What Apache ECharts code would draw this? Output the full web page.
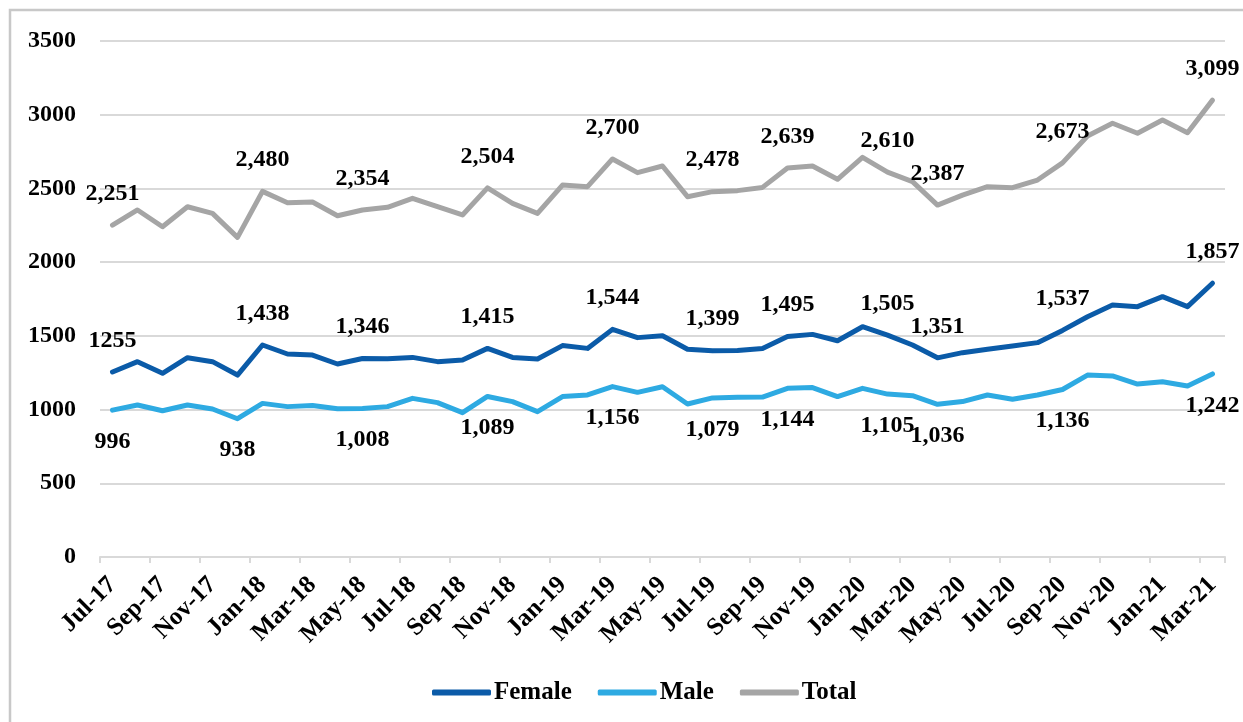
<!DOCTYPE html>
<html>
<head>
<meta charset="utf-8">
<script src="https://cdn.jsdelivr.net/npm/echarts@6/dist/echarts.min.js"></script>
<style>
  html, body { margin: 0; padding: 0; background: #fff; }
  #chart { width: 1243px; height: 722px; }
</style>
</head>
<body>
<div id="chart"></div>
<script type="text/javascript">
// months Jul-17 .. Mar-21
var months = ['Jul-17','Aug-17','Sep-17','Oct-17','Nov-17','Dec-17',
  'Jan-18','Feb-18','Mar-18','Apr-18','May-18','Jun-18','Jul-18','Aug-18','Sep-18','Oct-18','Nov-18','Dec-18',
  'Jan-19','Feb-19','Mar-19','Apr-19','May-19','Jun-19','Jul-19','Aug-19','Sep-19','Oct-19','Nov-19','Dec-19',
  'Jan-20','Feb-20','Mar-20','Apr-20','May-20','Jun-20','Jul-20','Aug-20','Sep-20','Oct-20','Nov-20','Dec-20',
  'Jan-21','Feb-21','Mar-21'];

var female = [1255,1325,1246,1352,1325,1234,1438,1377,1370,1309,1346,1344,1354,1325,1336,1415,1354,1343,
  1434,1415,1544,1488,1501,1409,1399,1400,1415,1495,1510,1467,1562,1505,1438,1351,1386,1409,1431,1454,
  1537,1630,1709,1698,1766,1698,1857];

var male = [996,1031,992,1031,1004,938,1042,1020,1028,1005,1008,1020,1076,1047,979,1089,1054,986,
  1088,1099,1156,1117,1155,1038,1079,1083,1085,1144,1149,1088,1144,1105,1094,1036,1054,1099,1070,1099,
  1136,1234,1228,1173,1189,1160,1242];

var total = [2251,2354,2240,2376,2331,2168,2480,2403,2408,2315,2354,2372,2433,2376,2320,2504,2399,2331,
  2523,2512,2700,2607,2652,2444,2478,2485,2507,2639,2652,2562,2711,2610,2546,2387,2455,2512,2505,2557,
  2673,2856,2942,2874,2964,2878,3099];

// which points carry a value label
var femaleLabelIdx = [0,6,10,15,20,24,27,31,33,38,44];
var maleLabelIdx   = [0,5,10,15,20,24,27,31,33,38,44];
var totalLabelIdx  = [0,6,10,15,20,24,27,31,33,38,44];

var yTicks = [0,500,1000,1500,2000,2500,3000,3500];

var FONT = '"Liberation Serif", "Times New Roman", serif';

function fmt(v){
  return String(v).replace(/\B(?=(\d{3})+(?!\d))/g, ',');
}

function withLabels(values, idx, pos, plain){
  return values.map(function(v, i){
    if (idx.indexOf(i) < 0) return v;
    return {
      value: v,
      label: {
        show: true,
        position: pos,
        distance: 19,
        color: '#000',
        fontFamily: FONT,
        fontWeight: 'bold',
        fontSize: 24,
        formatter: function(p){ return (plain && p.dataIndex === 0) ? String(p.value) : fmt(p.value); }
      }
    };
  });
}

function lineSeries(name, values, color){
  return {
    name: name,
    type: 'line',
    data: values,
    symbol: 'circle',
    symbolSize: 1,
    showSymbol: true,
    showAllSymbol: true,
    lineStyle: { width: 5, color: color, cap: 'round', join: 'round' },
    itemStyle: { color: color },
    label: { show: false },
    emphasis: { disabled: true }
  };
}

var mychart = echarts.init(document.getElementById('chart'));
var option = {
  animation: false,
  graphic: [{
    type: 'rect',
    shape: { x: 10, y: 10, width: 1400, height: 900 },
    style: { fill: 'none', stroke: '#c8c8c8', lineWidth: 2.5 },
    silent: true
  }],
  grid: { left: 100, right: 18, top: 41, bottom: 165 },
  legend: {
    data: ['Female','Male','Total'],
    top: 675,
    left: 427,
    icon: 'roundRect',
    itemWidth: 59,
    itemHeight: 6,
    itemGap: 26,
    textStyle: { fontFamily: FONT, fontWeight: 'bold', fontSize: 25, color: '#000', padding: [0,0,0,-2] }
  },
  xAxis: {
    type: 'category',
    data: months,
    boundaryGap: true,
    axisLine: { lineStyle: { color: '#d9d9d9', width: 2 } },
    axisTick: { show: true, interval: 1, length: 6, lineStyle: { color: '#d9d9d9', width: 2 } },
    axisLabel: {
      interval: 1,
      rotate: 45,
      margin: 24,
      color: '#000',
      fontFamily: FONT,
      fontWeight: 'bold',
      fontSize: 25
    },
    splitLine: { show: false }
  },
  yAxis: {
    type: 'value',
    min: yTicks[0],
    max: yTicks[yTicks.length - 1],
    interval: 500,
    axisLine: { show: false },
    axisTick: { show: false },
    axisLabel: {
      margin: 24,
      color: '#000',
      fontFamily: FONT,
      fontWeight: 'bold',
      fontSize: 24,
      formatter: function(v){ return String(v); }
    },
    splitLine: { lineStyle: { color: '#d9d9d9', width: 2 } }
  },
  series: [
    lineSeries('Female', withLabels(female, femaleLabelIdx, 'top', true), '#0b5ba8'),
    lineSeries('Male', withLabels(male, maleLabelIdx, 'bottom', false), '#2eaae2'),
    lineSeries('Total', withLabels(total, totalLabelIdx, 'top', false), '#a5a5a5')
  ]
};
mychart.setOption(option);
</script>
</body>
</html>
